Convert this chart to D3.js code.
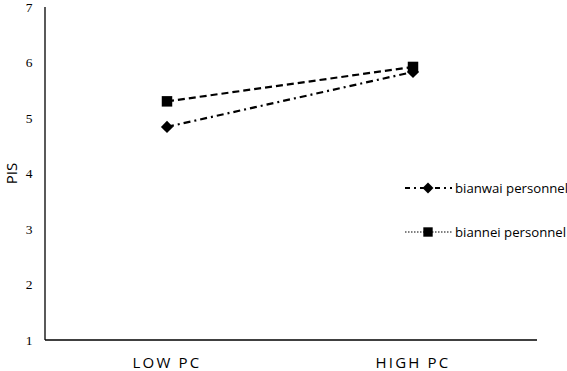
<!DOCTYPE html>
<html>
<head>
<meta charset="utf-8">
<script src="https://cdn.jsdelivr.net/npm/d3@7"></script>
<style>
  body { margin: 0; background: #fff; }
  svg { display: block; }
</style>
</head>
<body>
<div id="chart"></div>
<script>
// data
const categories = ['LOW PC', 'HIGH PC'];
const bianwai = [4.84, 5.83];
const biannei = [5.30, 5.92];
const yTicks = [1, 2, 3, 4, 5, 6, 7];

const width = 567, height = 371;
const margin = { top: 7, right: 30, bottom: 31, left: 45 };

const svg = d3.select('#chart').append('svg')
    .attr('width', width)
    .attr('height', height);

const x = d3.scalePoint()
    .domain(categories)
    .range([167, 413]);

const y = d3.scaleLinear()
    .domain([1, 7])
    .range([height - margin.bottom, margin.top]);

// axes
svg.append('line')
    .attr('x1', margin.left).attr('x2', margin.left)
    .attr('y1', y(7)).attr('y2', y(1))
    .attr('stroke', '#000').attr('stroke-width', 1.3);

svg.append('line')
    .attr('x1', margin.left).attr('x2', 537)
    .attr('y1', y(1)).attr('y2', y(1))
    .attr('stroke', '#000').attr('stroke-width', 1.3);

svg.selectAll('.ytick')
    .data(yTicks)
    .join('text')
    .attr('class', 'ytick')
    .attr('x', 29)
    .attr('y', d => y(d))
    .attr('dy', '0.35em')
    .attr('text-anchor', 'middle')
    .attr('font-family', 'Liberation Serif, serif')
    .attr('font-size', 13.5)
    .text(d => d);

svg.selectAll('.xlab')
    .data(categories)
    .join('text')
    .attr('class', 'xlab')
    .attr('x', d => x(d))
    .attr('y', 368)
    .attr('text-anchor', 'middle')
    .attr('font-family', 'Open Sans, sans-serif')
    .attr('font-size', 15)
    .attr('letter-spacing', 2.2)
    .text(d => d);

svg.append('text')
    .attr('transform', `translate(17, ${y(4)}) rotate(-90)`)
    .attr('text-anchor', 'middle')
    .attr('font-family', 'Open Sans, sans-serif')
    .attr('font-size', 15)
    .text('PIS');

// series
const series = [
    { name: 'bianwai personnel', values: bianwai, dash: '7,4,2,4', symbol: d3.symbolDiamond2, size: 95, legendDash: '5,4,2,4' },
    { name: 'biannei personnel', values: biannei, dash: '7,4', symbol: d3.symbolSquare, size: 110, legendDash: '1.5,1.5' }
];

const line = d3.line()
    .x((d, i) => x(categories[i]))
    .y(d => y(d));

svg.selectAll('.series-line')
    .data(series)
    .join('path')
    .attr('class', 'series-line')
    .attr('fill', 'none')
    .attr('stroke', '#000')
    .attr('stroke-width', 2.2)
    .attr('stroke-dasharray', d => d.dash)
    .attr('d', d => line(d.values));

series.forEach(s => {
    svg.selectAll(null)
        .data(s.values)
        .join('path')
        .attr('transform', (d, i) => `translate(${x(categories[i])}, ${y(d)})`)
        .attr('d', d3.symbol().type(s.symbol).size(s.size))
        .attr('fill', '#000');
});

// legend
const legend = svg.append('g');
const ly = [188, 232];
series.forEach((s, i) => {
    legend.append('line')
        .attr('x1', 405).attr('x2', 452)
        .attr('y1', ly[i]).attr('y2', ly[i])
        .attr('stroke', '#000')
        .attr('stroke-width', i === 0 ? 1.8 : 1.2)
        .attr('stroke-dasharray', s.legendDash);
    legend.append('path')
        .attr('transform', `translate(428, ${ly[i]})`)
        .attr('d', d3.symbol().type(s.symbol).size(s.size * 0.8))
        .attr('fill', '#000');
    legend.append('text')
        .attr('x', 455)
        .attr('y', ly[i])
        .attr('dy', '0.35em')
        .attr('font-family', 'Open Sans, sans-serif')
        .attr('font-size', 13.2)
        .text(s.name);
});
</script>
</body>
</html>
